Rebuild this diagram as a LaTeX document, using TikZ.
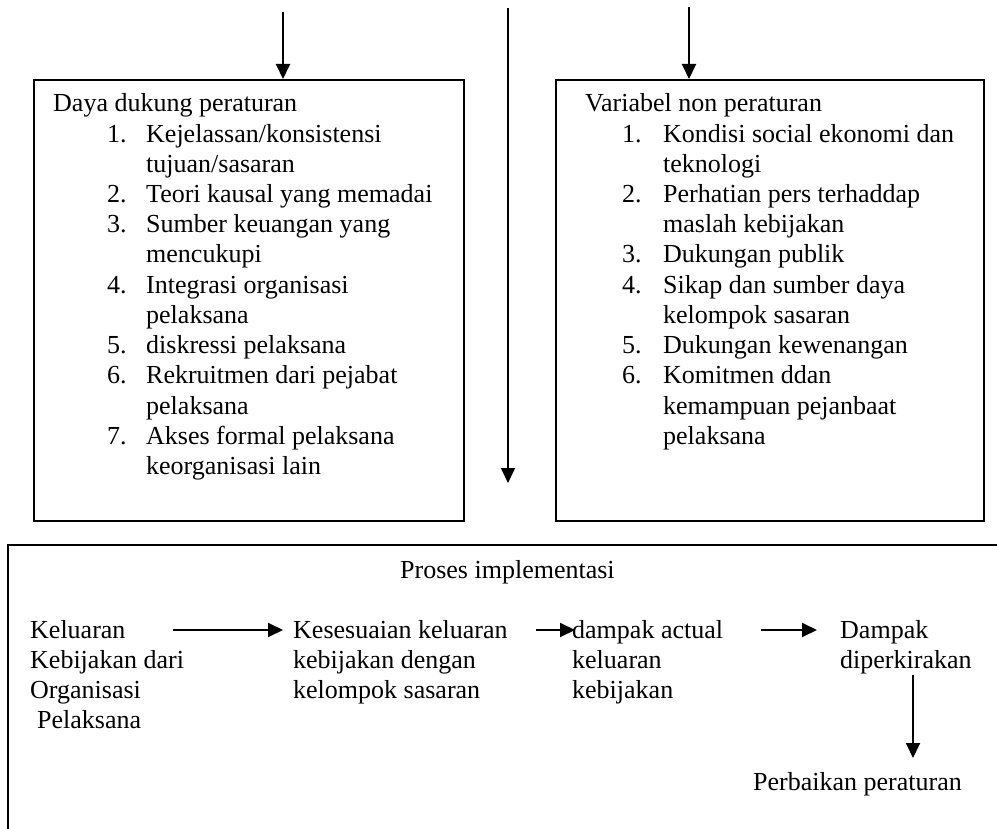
\documentclass[tikz,border=0pt]{standalone}
\usepackage{fontspec}
\setmainfont{Liberation Serif}
\usetikzlibrary{arrows.meta,calc}
\begin{document}
\begin{tikzpicture}[x=1pt,y=1pt,
  txt/.style={anchor=base west,inner sep=0pt,font=\fontsize{26}{30.2}\selectfont},
  boxframe/.style={draw,line width=1.9pt,anchor=north west,inner sep=0pt},
  arr/.style={line width=1.9pt,-{Triangle[length=15pt,width=14pt]}},
  frame/.style={line width=1.9pt}]
\useasboundingbox (0,0) rectangle (997,-829);
% boxes
\node[boxframe,minimum width=430pt,minimum height=441pt] (lbox) at (33,-79) {};
\node[boxframe,minimum width=428pt,minimum height=441pt] (rbox) at (555,-79) {};
% top arrows
\coordinate (t1) at (283,-12);
\coordinate (t2) at (508,-8);
\coordinate (t2e) at (508,-483);
\coordinate (t3) at (689,-7);
\draw[arr] (t1) -- (t1 |- lbox.north);
\draw[arr] (t2) -- (t2e);
\draw[arr] (t3) -- (t3 |- rbox.north);
% left box text
\node[txt] (l0) at (53,-112) {Daya dukung peraturan};
\node[txt] (l1n) at (107,-142.2) {1.};
\node[txt] (l1) at (146,-142.2) {Kejelassan/konsistensi};
\node[txt] (l2) at (146,-172.4) {tujuan/sasaran};
\node[txt] (l3n) at (107,-202.6) {2.};
\node[txt] (l3) at (146,-202.6) {Teori kausal yang memadai};
\node[txt] (l4n) at (107,-232.8) {3.};
\node[txt] (l4) at (146,-232.8) {Sumber keuangan yang};
\node[txt] (l5) at (146,-263) {mencukupi};
\node[txt] (l6n) at (107,-293.2) {4.};
\node[txt] (l6) at (146,-293.2) {Integrasi organisasi};
\node[txt] (l7) at (146,-323.4) {pelaksana};
\node[txt] (l8n) at (107,-353.6) {5.};
\node[txt] (l8) at (146,-353.6) {diskressi pelaksana};
\node[txt] (l9n) at (107,-383.8) {6.};
\node[txt] (l9) at (146,-383.8) {Rekruitmen dari pejabat};
\node[txt] (l10) at (146,-414) {pelaksana};
\node[txt] (l11n) at (107,-444.2) {7.};
\node[txt] (l11) at (146,-444.2) {Akses formal pelaksana};
\node[txt] (l12) at (146,-474.4) {keorganisasi lain};
% right box text
\node[txt] (r0) at (585,-112) {Variabel non peraturan};
\node[txt] (r1n) at (622,-142.2) {1.};
\node[txt] (r1) at (663,-142.2) {Kondisi social ekonomi dan};
\node[txt] (r2) at (663,-172.4) {teknologi};
\node[txt] (r3n) at (622,-202.6) {2.};
\node[txt] (r3) at (663,-202.6) {Perhatian pers terhaddap};
\node[txt] (r4) at (663,-232.8) {maslah kebijakan};
\node[txt] (r5n) at (622,-263) {3.};
\node[txt] (r5) at (663,-263) {Dukungan publik};
\node[txt] (r6n) at (622,-293.2) {4.};
\node[txt] (r6) at (663,-293.2) {Sikap dan sumber daya};
\node[txt] (r7) at (663,-323.4) {kelompok sasaran};
\node[txt] (r8n) at (622,-353.6) {5.};
\node[txt] (r8) at (663,-353.6) {Dukungan kewenangan};
\node[txt] (r9n) at (622,-383.8) {6.};
\node[txt] (r9) at (663,-383.8) {Komitmen ddan};
\node[txt] (r10) at (663,-414) {kemampuan pejanbaat};
\node[txt] (r11) at (663,-444.2) {pelaksana};
% bottom frame
\draw[frame] (997,-545) -- (8,-545) -- (8,-829);
\node[txt] (pi) at (400,-578) {Proses implementasi};
% column 1
\node[txt] (a1) at (30,-638) {Keluaran};
\node[txt] (a2) at (30,-668) {Kebijakan dari};
\node[txt] (a3) at (30,-698) {Organisasi};
\node[txt] (a4) at (37,-728) {Pelaksana};
% column 2
\node[txt] (b1) at (293,-638) {Kesesuaian keluaran};
\node[txt] (b2) at (293,-668) {kebijakan dengan};
\node[txt] (b3) at (293,-698) {kelompok sasaran};
% column 3
\node[txt] (c1) at (572,-638) {dampak actual};
\node[txt] (c2) at (572,-668) {keluaran};
\node[txt] (c3) at (572,-698) {kebijakan};
% column 4
\node[txt] (d1) at (840,-638) {Dampak};
\node[txt] (d2) at (840,-668) {diperkirakan};
\node[txt] (pb) at (753,-790) {Perbaikan peraturan};
% flow arrows
\draw[arr] ($(a1.base east)+(47,8)$) -- ($(b1.base west)+(-10,8)$);
\draw[arr] ($(b1.base east)+(28,8)$) -- ($(c1.base west)+(3,8)$);
\draw[arr] ($(c1.base east)+(38,8)$) -- ($(d1.base west)+(-23,8)$);
\coordinate (vx) at (913,0);
\draw[arr] ($(vx |- d2.base)+(0,-7)$) -- ($(vx |- pb.base)+(0,32)$);
\end{tikzpicture}
\end{document}
